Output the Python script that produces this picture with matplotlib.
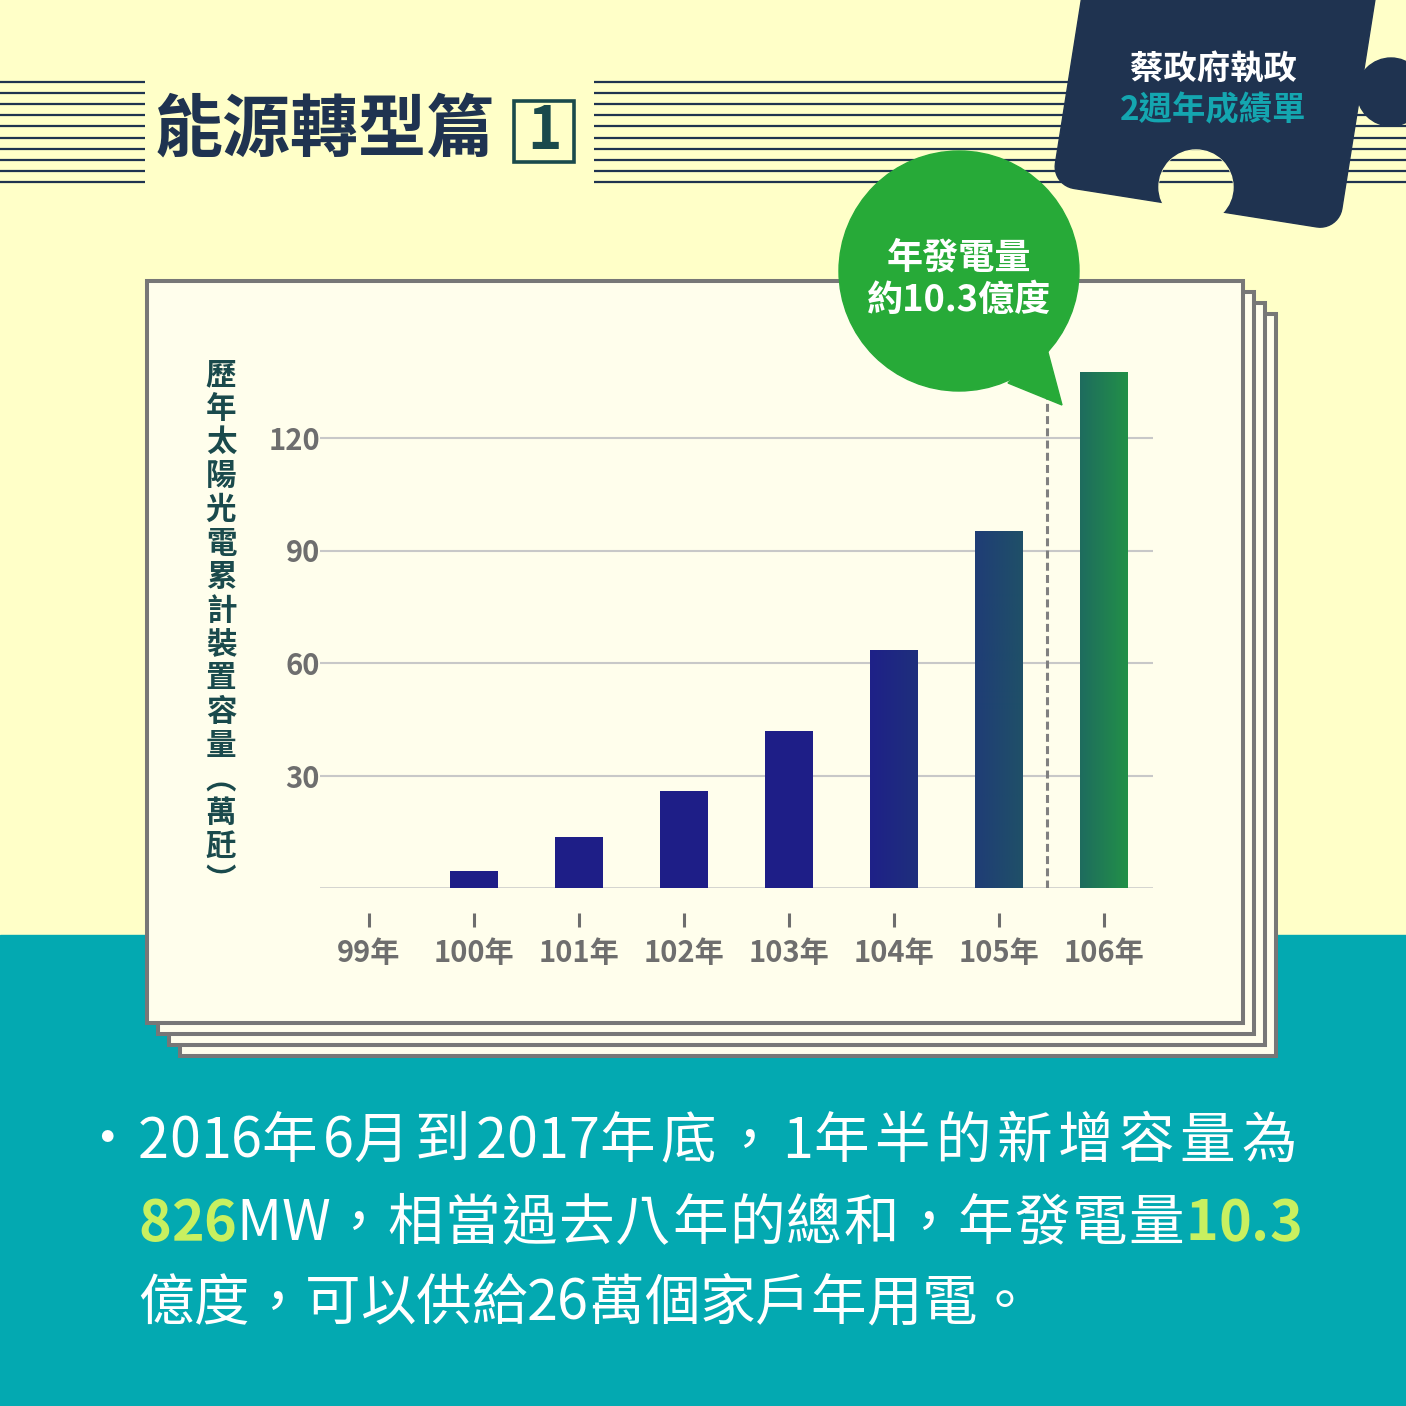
import numpy as np
import matplotlib
matplotlib.use("Agg")
import matplotlib.pyplot as plt
from matplotlib.patches import Rectangle, Circle, Polygon
from matplotlib.colors import LinearSegmentedColormap
from matplotlib.transforms import blended_transform_factory

plt.rcParams['font.family'] = ['Noto Sans CJK TC', 'DejaVu Sans']

# data
years = ['99年', '100年', '101年', '102年', '103年', '104年', '105年', '106年']
capacity = [0, 4.5, 13.6, 25.9, 41.9, 63.5, 95.2, 137.6]
y_ticks = [30, 60, 90, 120]
y_label = ['歷', '年', '太', '陽', '光', '電', '累', '計', '裝', '置', '容', '量', '︵', '萬', '瓩', '︶']

title = '能源轉型篇'
badge = ['蔡政府執政', '2週年成績單']
bubble = ['年發電量', '約10.3億度']

# colours
BG_TOP = '#ffffc8'
BG_BOTTOM = '#03a9b1'
CARD = '#fffeec'
CARD_EDGE = '#777777'
NAVY = '#1f3350'
TEAL_DARK = '#1a4a4c'
GRID = '#c8c8c8'
TICK = '#6e6e6e'
BAR = '#1e1e87'
GREEN = '#27aa38'
LIME = '#c8f060'
grad = {5: ('#1e2188', '#1f2f7c'), 6: ('#1f3d76', '#1f5068'), 7: ('#1e6c5e', '#229048')}

W = H = 1406
fig = plt.figure(figsize=(14.06, 14.06), dpi=100)

# ---- background layer, pixel coordinates (y down)
bg = fig.add_axes([0, 0, 1, 1], zorder=0)
bg.set_xlim(0, W)
bg.set_ylim(H, 0)
bg.axis('off')
bg.add_patch(Rectangle((0, 0), W, 935, color=BG_TOP, zorder=0))
bg.add_patch(Rectangle((0, 935), W, H - 935, color=BG_BOTTOM, zorder=0))

line_ys = np.linspace(82, 182, 10)
bg.hlines(line_ys, 0, 145, color=NAVY, lw=1.6, zorder=1)
bg.hlines(line_ys, 594, W, color=NAVY, lw=1.6, zorder=1)

# title + numbered box
bg.text(155, 131, title, fontsize=49, fontweight='heavy', color=NAVY,
        ha='left', va='center', zorder=2)
bg.add_patch(Rectangle((514, 101), 60, 61, fill=False, ec=TEAL_DARK, lw=2.6, zorder=2))
bg.text(544, 132, '1', fontsize=42, fontweight='bold', color=TEAL_DARK,
        ha='center', va='center', zorder=2)

# puzzle piece: rotated rounded rectangle, knob on the right, notch below
th = np.deg2rad(9)
u = np.array([np.cos(th), np.sin(th)])
v = np.array([np.sin(th), -np.cos(th)])
corner = np.array([1052.0, 185.0])
pw, ph, r = 290, 330, 22
loc = []
for a in np.linspace(-np.pi / 2, 0, 12):
    loc.append((pw - r + r * np.cos(a), r + r * np.sin(a)))
loc += [(pw, ph), (0, ph)]
for a in np.linspace(np.pi, 1.5 * np.pi, 12):
    loc.append((r + r * np.cos(a), r + r * np.sin(a)))
pts = [corner + s * u + t * v for s, t in loc]
bg.add_patch(Polygon(pts, closed=True, color=NAVY, zorder=3))
bg.add_patch(Circle((1391, 92), 34, color=NAVY, zorder=3))
notch = Circle((1196, 187), 37, color=BG_TOP, zorder=4)
bg.add_patch(notch)
nl = bg.hlines(line_ys, 1150, 1250, color=NAVY, lw=1.6, zorder=5)
nl.set_clip_path(notch)
bg.text(1213, 70, badge[0], fontsize=24, fontweight='bold', color='white',
        ha='center', va='center', zorder=6)
bg.text(1213, 111, badge[1], fontsize=24, fontweight='bold', color='#14a6b0',
        ha='center', va='center', zorder=6)

# stacked paper cards
for k in [3, 2, 1, 0]:
    off = 11 * k
    bg.add_patch(Rectangle((147 + off, 281 + off), 1096, 742, fc=CARD,
                           ec=CARD_EDGE, lw=2.9, zorder=7))

# vertical axis title
for i, ch in enumerate(y_label):
    bg.text(221, 375 + 33.7 * i, ch, fontsize=22, fontweight='bold', color=TEAL_DARK,
            ha='center', va='center', zorder=8)

# ---- chart
ax = fig.add_axes([320 / W, (H - 888) / H, 833 / W, 525 / H], zorder=2)
ax.set_facecolor('none')
x = np.arange(len(years))
bars = ax.bar(x, capacity, width=0.457, color=BAR, zorder=3)
for i, (c0, c1) in grad.items():
    b = bars[i]
    cmap = LinearSegmentedColormap.from_list('g%d' % i, [c0, c1])
    im = ax.imshow(np.linspace(0, 1, 64).reshape(1, -1), cmap=cmap, aspect='auto',
                   extent=(b.get_x(), b.get_x() + b.get_width(), 0, b.get_height()),
                   origin='lower', zorder=4)
    im.set_clip_path(b)

ax.vlines(6.455, 0, 130.7, colors='#808080', lw=2.2,
          linestyles=(0, (2.6, 1.4)), zorder=2)
ax.set_xlim(-0.4667, 7.4667)
ax.set_ylim(0, 140)
ax.set_yticks(y_ticks)
ax.yaxis.grid(True, color=GRID, lw=1.5, zorder=1)
ax.axhline(0, color=GRID, lw=1.8, zorder=1)
for s in ax.spines.values():
    s.set_visible(False)
ax.tick_params(axis='y', length=0, pad=0, labelsize=21, labelcolor=TICK)
ax.set_xticks(x, years)
ax.tick_params(axis='x', length=0, pad=36, labelsize=21, labelcolor=TICK)
for lab in ax.get_xticklabels() + ax.get_yticklabels():
    lab.set_fontweight('bold')
trans = blended_transform_factory(ax.transData, ax.transAxes)
ax.plot(x, [-0.06] * len(x), transform=trans, ls='none', marker='|', ms=10,
        mew=2.2, color=TICK, clip_on=False)

# ---- top layer: speech bubble
top = fig.add_axes([0, 0, 1, 1], zorder=5)
top.set_xlim(0, W)
top.set_ylim(H, 0)
top.axis('off')
top.add_patch(Circle((959, 271), 120, color=GREEN))
top.add_patch(Polygon([(1046, 345), (1062, 405), (1008, 383)], closed=True, color=GREEN))
top.text(959, 258, bubble[0], fontsize=26, fontweight='bold', color='white',
         ha='center', va='center')
top.text(959, 300, bubble[1], fontsize=26, fontweight='bold', color='white',
         ha='center', va='center')

# ---- bottom paragraph
renderer = fig.canvas.get_renderer()
FS = 40


def char_width(ch, weight):
    t = bg.text(0, 0, ch, fontsize=FS, fontweight=weight)
    w = t.get_window_extent(renderer).width
    t.remove()
    return w


def put_line(x0, y, runs, right=None):
    # one char at a time so the line can be justified like the original
    chars = [(ch, c, w) for text, c, w in runs for ch in text]
    widths = [char_width(ch, w) for ch, c, w in chars]
    wide = [ord(ch) > 0x2000 for ch, c, w in chars]
    track = 0
    if right is not None:
        track = (right - x0 - sum(widths)) / max(1, sum(wide))
    xx = x0
    for (ch, c, w), wd, isw in zip(chars, widths, wide):
        bg.text(xx, y, ch, fontsize=FS, fontweight=w, color=c,
                ha='left', va='baseline', zorder=9)
        xx += wd + (track if isw else 0)


bg.text(107, 1141, '·', fontsize=FS, color='white', ha='center', va='center', zorder=9)
put_line(138, 1158, [('2016年6月到2017年底，1年半的新增容量為', 'white', 'normal')], right=1302)
put_line(138, 1240, [('826', LIME, 'bold'), ('MW，相當過去八年的總和，年發電量', 'white', 'normal'),
                     ('10.3', LIME, 'bold')], right=1302)
put_line(138, 1320, [('億度，可以供給26萬個家戶年用電。', 'white', 'normal')])

fig.savefig('out.png', dpi=100)
